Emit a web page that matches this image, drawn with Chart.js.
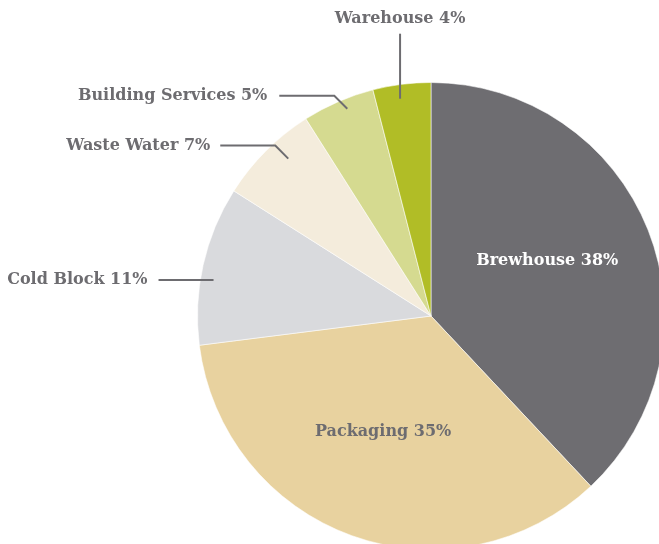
<!DOCTYPE html>
<html>
<head>
<meta charset="utf-8">
<script src="https://cdn.jsdelivr.net/npm/chart.js"></script>
<style>
  html, body { margin: 0; padding: 0; background: #fff; overflow: hidden; }
  #energyChart { position: absolute; left: 0; top: 0; }
</style>
</head>
<body>
<canvas id="energyChart" width="700" height="600"></canvas>
<script>
// Energy use by area, percent of total (clockwise from 12 o'clock)
const categories = ['Brewhouse', 'Packaging', 'Cold Block', 'Waste Water', 'Building Services', 'Warehouse'];
const shares = [38, 35, 11, 7, 5, 4];
const sliceColors = ['#6e6d71', '#e8d29f', '#d9dadd', '#f4ecdc', '#d5da90', '#b1bd26'];

const textGray = '#6d6c70';
const labelFont = 'bold 16px "DejaVu Serif", serif';

// Labels placed inside their slice: radius fraction + angle tweak (degrees)
const insideLabels = {
    'Brewhouse': { r: 0.55, tweak: -3.6, color: '#ffffff' },
    'Packaging': { r: 0.536, tweak: 2.7, color: textGray }
};

// Labels outside the pie with a leader line
const callouts = {
    'Warehouse': { r: 0.94, tweak: -0.9, type: 'up', rise: 65 },
    'Building Services': { r: 0.957, tweak: 1.4, type: 'left', diag: 13, run: 55, gap: 12 },
    'Waste Water': { r: 0.91, tweak: 2.8, type: 'left', diag: 13, run: 55, gap: 10 },
    'Cold Block': { r: 0.944, tweak: -3.2, type: 'left', diag: 0, run: 55, gap: 11 }
};

function polar(arc, deg, frac) {
    const a = (arc.startAngle + arc.endAngle) / 2 + deg * Math.PI / 180;
    return {
        x: arc.x + Math.cos(a) * arc.outerRadius * frac,
        y: arc.y + Math.sin(a) * arc.outerRadius * frac
    };
}

const sliceLabels = {
    id: 'sliceLabels',
    afterDatasetsDraw(chart) {
        const ctx = chart.ctx;
        const arcs = chart.getDatasetMeta(0).data;
        ctx.save();
        ctx.font = labelFont;
        ctx.textBaseline = 'middle';
        ctx.strokeStyle = textGray;
        ctx.lineWidth = 2;
        arcs.forEach((el, i) => {
            const arc = el.getProps(['x', 'y', 'startAngle', 'endAngle', 'outerRadius'], true);
            const name = categories[i];
            const text = name + ' ' + shares[i] + '%';
            if (insideLabels[name]) {
                const cfg = insideLabels[name];
                const p = polar(arc, cfg.tweak, cfg.r);
                ctx.fillStyle = cfg.color;
                ctx.textAlign = 'center';
                ctx.fillText(text, p.x, p.y);
                return;
            }
            const cfg = callouts[name];
            if (!cfg) return;
            const p = polar(arc, cfg.tweak, cfg.r);
            ctx.fillStyle = textGray;
            ctx.beginPath();
            if (cfg.type === 'up') {
                ctx.moveTo(p.x, p.y);
                ctx.lineTo(p.x, p.y - cfg.rise);
                ctx.stroke();
                ctx.textAlign = 'center';
                ctx.fillText(text, p.x, p.y - cfg.rise - 15);
            } else {
                const ex = p.x - cfg.diag, ey = p.y - cfg.diag;
                ctx.moveTo(p.x, p.y);
                ctx.lineTo(ex, ey);
                ctx.lineTo(ex - cfg.run, ey);
                ctx.stroke();
                ctx.textAlign = 'right';
                ctx.fillText(text, ex - cfg.run - cfg.gap, ey);
            }
        });
        ctx.restore();
    }
};

new Chart(document.getElementById('energyChart').getContext('2d'), {
    type: 'pie',
    data: {
        labels: categories,
        datasets: [{
            data: shares,
            backgroundColor: sliceColors,
            borderColor: 'rgba(255,255,255,0.55)',
            borderWidth: 1
        }]
    },
    options: {
        responsive: false,
        animation: false,
        devicePixelRatio: 1,
        layout: { padding: { left: 197, top: 82, right: 35, bottom: 50 } },
        plugins: {
            legend: { display: false },
            tooltip: { enabled: false }
        }
    },
    plugins: [sliceLabels]
});
</script>
</body>
</html>
